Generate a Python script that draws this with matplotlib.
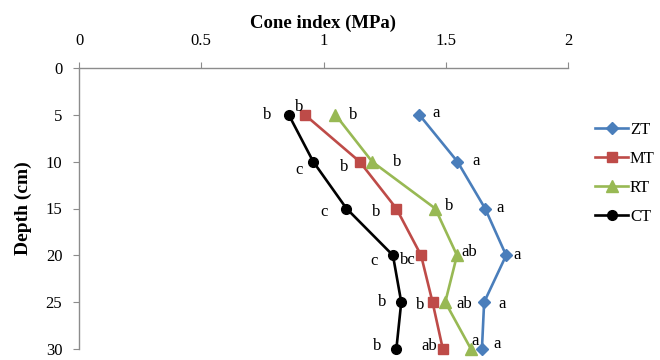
import matplotlib
matplotlib.use("Agg")
import matplotlib.pyplot as plt

depth = [5, 10, 15, 20, 25, 30]
zt = [1.392, 1.548, 1.661, 1.747, 1.657, 1.648]
mt = [0.924, 1.148, 1.298, 1.399, 1.446, 1.488]
rt = [1.049, 1.199, 1.457, 1.546, 1.498, 1.603]
ct = [0.858, 0.958, 1.094, 1.284, 1.318, 1.298]

zt_letters = ["a", "a", "a", "a", "a", "a"]
mt_letters = ["b", "b", "b", "bc", "b", "ab"]
rt_letters = ["b", "b", "b", "ab", "ab", "a"]
ct_letters = ["b", "c", "c", "c", "b", "b"]

xticks = [0, 0.5, 1, 1.5, 2]
xtick_labels = ["0", "0.5", "1", "1.5", "2"]
yticks = [0, 5, 10, 15, 20, 25, 30]

plt.rcParams['font.family'] = ['Liberation Serif', 'DejaVu Serif']

fig = plt.figure(figsize=(6.6, 3.6), dpi=100)
ax = fig.add_axes([79/660, 1-349/360, (568-79)/660, (349-68)/360])

gray = "#8c8c8c"
series = [
    ("ZT", zt, "#4a7ebb", "D", 6.0, zt_letters,
     [(17, 2), (19, 1), (15, 0), (11, 0), (18, -2), (15, 5)]),
    ("MT", mt, "#be4b48", "s", 7.0, mt_letters,
     [(-6, 8), (-16, -5), (-20, -3), (-13, -5), (-12, -3), (-14, 3)]),
    ("RT", rt, "#98b954", "^", 8.0, rt_letters,
     [(18, 0), (25, 0), (14, 2), (12, 3), (19, -2), (4, 8)]),
    ("CT", ct, "#000000", "o", 7.0, ct_letters,
     [(-22, 0), (-14, -8), (-22, -4), (-19, -6), (-19, 0), (-19, 3)]),
]

for name, vals, col, mk, ms, letters, offs in series:
    ax.plot(vals, depth, color=col, marker=mk, markersize=ms, linewidth=1.9,
            label=name, clip_on=False, zorder=3)
    for v, d, lt, (dx, dy) in zip(vals, depth, letters, offs):
        ax.annotate(lt, (v, d), xytext=(dx, dy), textcoords='offset pixels',
                    ha='center', va='center', fontsize=12, color='black')

ax.set_xlim(0, 2)
ax.set_ylim(30, 0)
ax.xaxis.tick_top()
ax.xaxis.set_label_position('top')
ax.set_xticks(xticks)
ax.set_xticklabels(xtick_labels)
ax.set_yticks(yticks)
ax.tick_params(axis='both', direction='out', length=4, color=gray, labelsize=12)
ax.tick_params(axis='x', pad=10)
ax.tick_params(axis='y', pad=8)
for s in ['right', 'bottom']:
    ax.spines[s].set_visible(False)
for s in ['left', 'top']:
    ax.spines[s].set_color(gray)
    ax.spines[s].set_linewidth(1.0)

ax.set_xlabel("Cone index (MPa)", fontsize=13.5, fontweight='bold', labelpad=3)
ax.set_ylabel("Depth (cm)", fontsize=14, fontweight='bold', labelpad=10)

leg = fig.legend(loc='center left', bbox_to_anchor=(595/660, 1-173/360),
                 frameon=False, fontsize=12, handlelength=2.0, handletextpad=0.1,
                 labelspacing=0.78, borderpad=0, borderaxespad=0)

fig.savefig("out.png", dpi=100)
